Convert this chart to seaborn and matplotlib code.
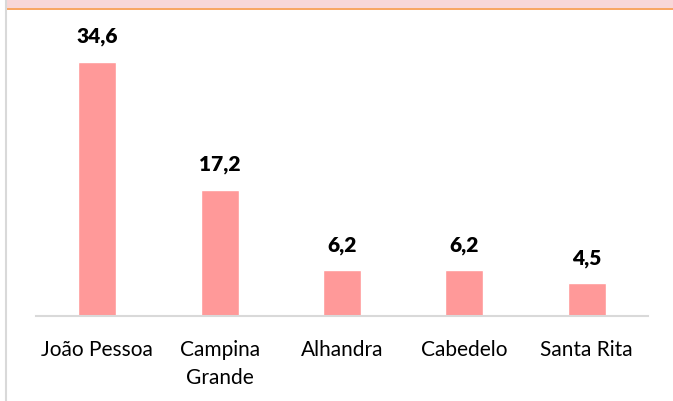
import matplotlib
matplotlib.use("Agg")
import matplotlib.pyplot as plt
import seaborn as sns
import pandas as pd
from matplotlib.patches import Rectangle
from matplotlib.lines import Line2D

categories = ["João Pessoa", "Campina\nGrande", "Alhandra", "Cabedelo", "Santa Rita"]
values = [34.6, 17.2, 6.2, 6.2, 4.5]

sns.set_theme(style="white")
plt.rcParams['font.family'] = ['Lato', 'DejaVu Sans']

W, H = 673, 401
fig = plt.figure(figsize=(W / 100, H / 100), dpi=100)
ax = fig.add_axes([36 / W, (H - 316) / H, 612 / W, (316 - 22) / H])

df = pd.DataFrame({"cat": categories, "val": values})
sns.barplot(data=df, x="cat", y="val", color="#FF9999", saturation=1, width=0.31, ax=ax)

ax.set_ylim(0, 40)
ax.set_xlim(-0.5, 4.5)
ax.set_xlabel("")
ax.set_ylabel("")
ax.set_yticks([])
for s in ["top", "right", "left"]:
    ax.spines[s].set_visible(False)
ax.spines["bottom"].set_color("#D9D9D9")
ax.spines["bottom"].set_linewidth(1.5)
ax.tick_params(axis="x", length=0, pad=17, labelsize=15, colors="black")
for t in ax.get_xticklabels():
    t.set_linespacing(1.5)
    t.set_verticalalignment("top")

labels = [f"{v:.1f}".replace(".", ",") for v in values]
ax.bar_label(ax.containers[0], labels=labels, padding=11, fontsize=15,
             fontweight="heavy", color="black")

# top banner (cut-off title area)
fig.patches.append(Rectangle((6 / W, (H - 8) / H), 1 - 6 / W, 8 / H, transform=fig.transFigure,
                             facecolor="#F8D7D8", edgecolor="none", zorder=0))
fig.lines.append(Line2D([6 / W, 1], [(H - 8.5) / H, (H - 8.5) / H], transform=fig.transFigure,
                        color="#F79646", linewidth=1.2))
fig.lines.append(Line2D([5.5 / W, 5.5 / W], [0, 1], transform=fig.transFigure,
                        color="#D9D9D9", linewidth=1.5))

fig.savefig("out.png", dpi=100)
